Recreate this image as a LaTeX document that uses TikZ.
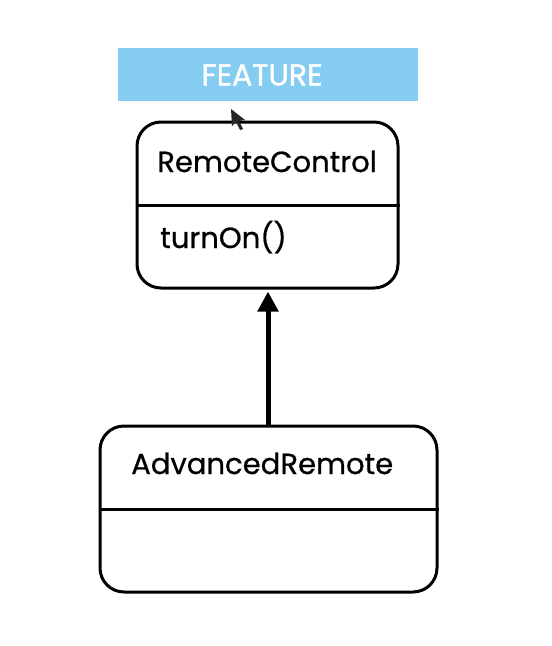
\documentclass[tikz,border=0pt]{standalone}
\usepackage{fontspec}
\setmainfont{Poppins}
\newfontfamily\medfont{Poppins}[FakeBold=0.7]
\newfontfamily\featfont{Poppins}[FakeBold=1.4]
\usepackage{xcolor}
\usepackage{tikz}
\usetikzlibrary{arrows.meta,positioning}
\definecolor{featblue}{RGB}{132,204,241}

\begin{document}
\begin{tikzpicture}[
  x=0.75pt, y=-0.75pt,
  banner/.style={fill=featblue, minimum width=225pt, minimum height=39.75pt,
    inner sep=0pt},
  bannertext/.style={inner sep=0pt, text=white, font=\featfont\fontsize{22.5}{26}\selectfont},
  classbox/.style={draw, line width=2.25pt, rounded corners=18pt,
    minimum height=124.5pt, inner sep=0pt},
  lbl/.style={anchor=base west, inner sep=0pt, font=\medfont\fontsize{21.8}{26}\selectfont},
  inh/.style={-{Triangle[length=15pt, width=15pt]}, line width=3.75pt, shorten >=1.5pt}
]
  \useasboundingbox (0,0) rectangle (552,646);

  % Feature banner
  \node[banner] (feat) at (268,74.5) {};
  \node[bannertext] (featlbl) at (262,75) {FEATURE};

  % Class boxes
  \node[classbox, minimum width=195.75pt] (rc) at (267.5,205) {};
  \node[classbox, minimum width=252.75pt] (adv) at (268.5,509) {};
  \draw[line width=2.25pt] (rc.west) -- (rc.east);
  \draw[line width=2.25pt] (adv.west) -- (adv.east);

  % Labels
  \node[lbl] (rcname) at (157,172) {RemoteControl};
  \node[lbl] (rcop) at (160,248) {turnOn()};
  \node[lbl] (advname) at (131,474) {AdvancedRemote};

  % Inheritance
  \draw[inh] (adv.north -| 268,0) -- (rc.south -| 268,0);

  % Mouse pointer
  \fill[black!85] (231,109) -- (232,126) -- (236,122) -- (240,130)
    -- (243,129) -- (239,121) -- (245,120) -- cycle;
\end{tikzpicture}
\end{document}
